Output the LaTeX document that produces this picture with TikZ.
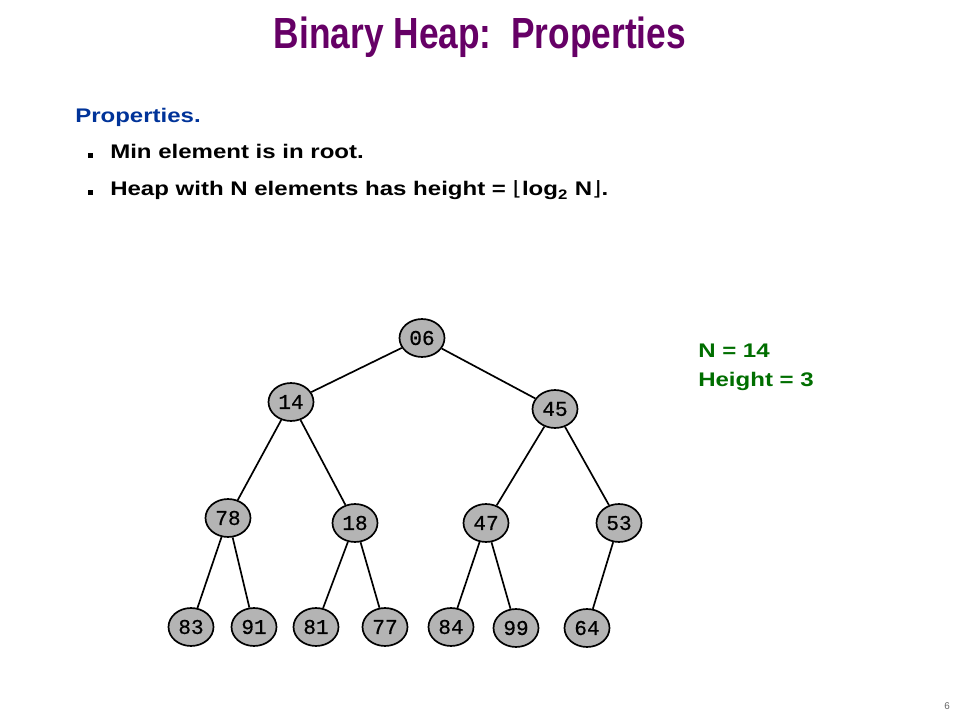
\documentclass[tikz,border=0pt]{standalone}
\usepackage{fontspec}
\setmainfont{Liberation Sans}
\newfontfamily\titlefont[FakeStretch=0.81]{Liberation Sans}
\newfontfamily\bodyfont[FakeStretch=1.22]{Liberation Sans}
\newfontfamily\floorfont[FakeStretch=1.22]{DejaVu Sans}
\newfontfamily\keyfont[FakeBold=0.6]{Liberation Mono}
\usepackage{tikz}
\usetikzlibrary{shapes.geometric}

\definecolor{titlepurple}{RGB}{102,0,102}
\definecolor{headblue}{RGB}{0,51,153}
\definecolor{notegreen}{RGB}{0,110,0}
\definecolor{keygray}{RGB}{180,180,180}

\tikzset{
	key/.style={ellipse,draw=black,line width=1.2pt,fill=keygray,minimum width=32pt,minimum height=27pt,inner sep=0pt,font=\keyfont\fontsize{15}{15}\selectfont},
	link/.style={draw=black,line width=1.2pt},
	line/.style={anchor=base west,inner sep=0pt,font=\bodyfont\bfseries\fontsize{14}{16}\selectfont}
}

\begin{document}
\begin{tikzpicture}[x=0.025cm,y=-0.025cm]
			\useasboundingbox (0,0) rectangle (960,720);
			\node[font=\titlefont\bfseries\fontsize{31}{33}\selectfont,text=titlepurple,anchor=base] (title) at (480,49) {Binary Heap:\ \ Properties};
			\node[line,text=headblue] (props) at (75,123) {Properties.};
			\fill (88,153) rectangle (93,158);
			\node[line] (minroot) at (110,159) {Min element is in root.};
			\fill (88,190) rectangle (93,195);
			\node[line] (height) at (110,196) {Heap with N elements has height = {\floorfont\mdseries ⌊}log\textsubscript{2} N{\floorfont\mdseries ⌋}.};
			\node[line,text=notegreen] (nval) at (698,358) {N = 14};
			\node[line,text=notegreen] (hval) at (698,387) {Height = 3};
			\node[text=black!60,font=\fontsize{7}{8}\selectfont] (page) at (947,706) {6};
			% heap nodes
			\foreach \n/\x/\y in {06/422/338,14/291/402,45/555/409,78/228/518,18/355/523,47/486/523,53/619/523,83/191/627,91/254/627,81/316/627,77/385/627,84/451/627,99/516/628,64/587/628}
				\node[key] (k\n) at (\x,\y) {\n};
			% edges parent/child
			\foreach \p/\c in {06/14,06/45,14/78,14/18,45/47,45/53,78/83,78/91,18/81,18/77,47/84,47/99,53/64}
				\draw[link] (k\p) -- (k\c);
		\end{tikzpicture}
\end{document}
